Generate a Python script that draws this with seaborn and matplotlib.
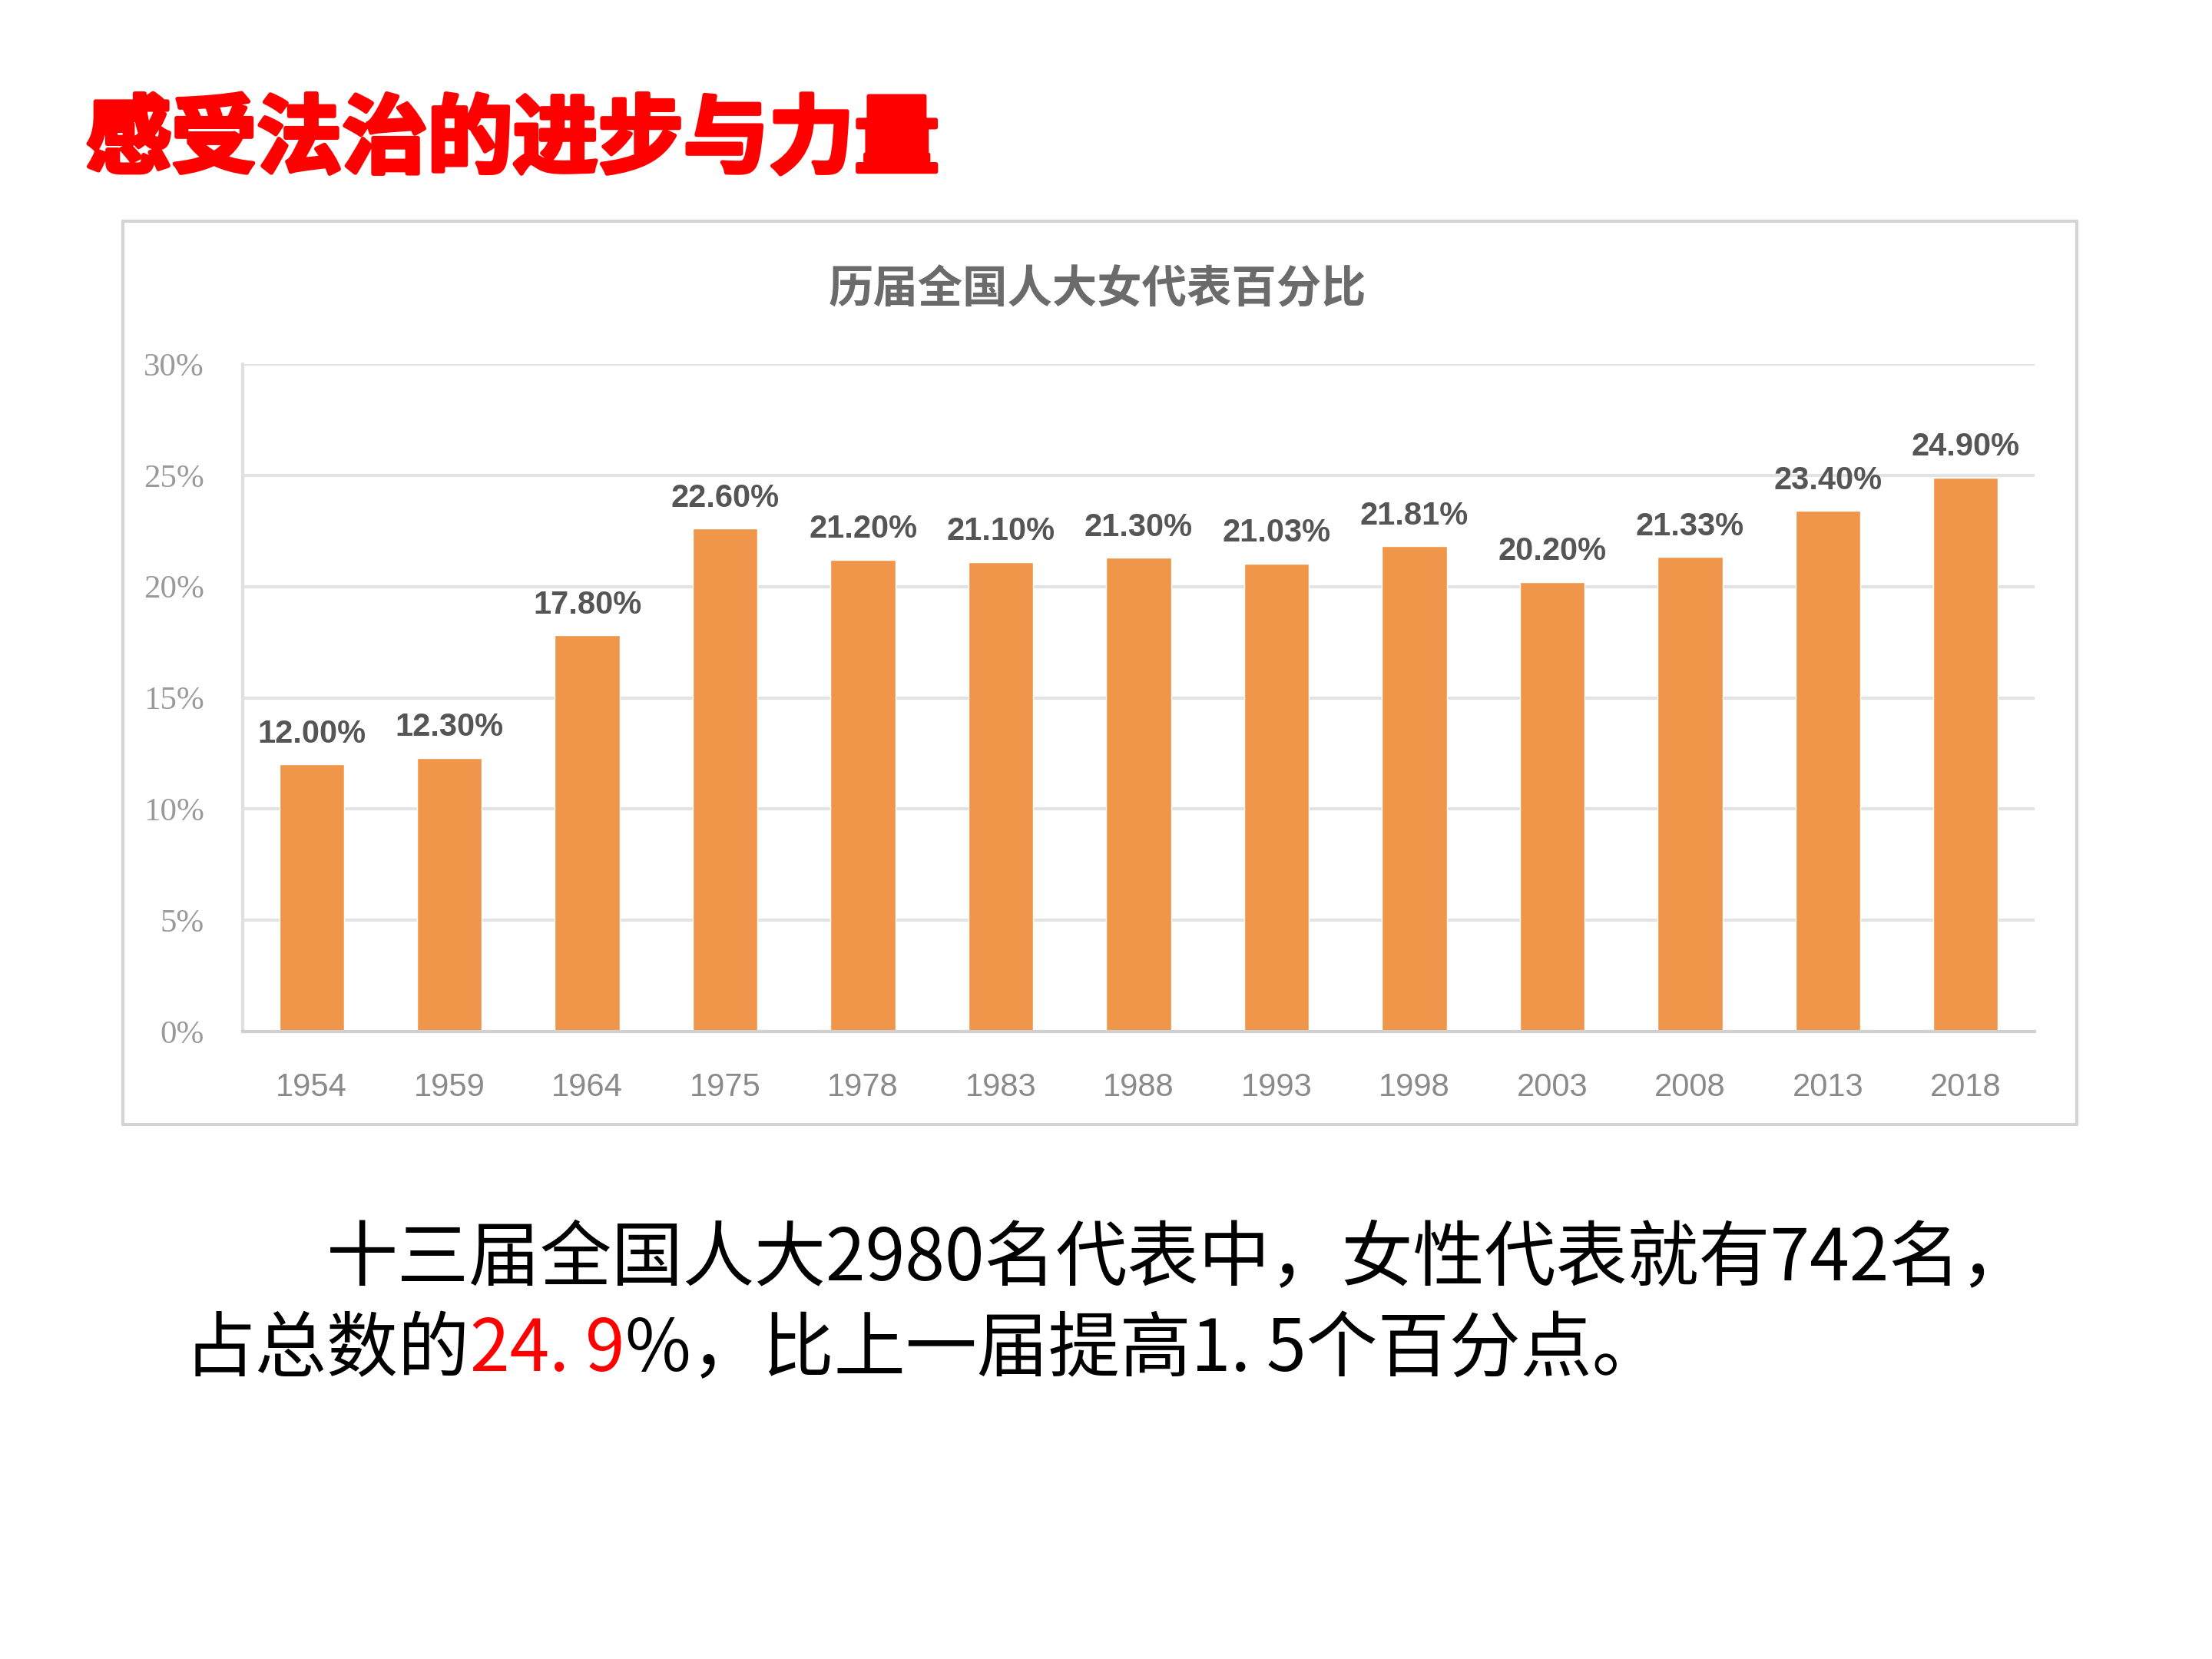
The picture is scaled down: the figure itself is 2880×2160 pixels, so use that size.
import matplotlib
matplotlib.use("Agg")
import matplotlib.pyplot as plt
import matplotlib.patheffects as pe
import seaborn as sns
import pandas as pd
from matplotlib.patches import Rectangle
from matplotlib.ticker import FuncFormatter

years = ["1954", "1959", "1964", "1975", "1978", "1983", "1988", "1993", "1998", "2003", "2008", "2013", "2018"]
values = [12.00, 12.30, 17.80, 22.60, 21.20, 21.10, 21.30, 21.03, 21.81, 20.20, 21.33, 23.40, 24.90]
value_labels = ["12.00%", "12.30%", "17.80%", "22.60%", "21.20%", "21.10%", "21.30%", "21.03%", "21.81%", "20.20%", "21.33%", "23.40%", "24.90%"]
y_ticks = [0, 5, 10, 15, 20, 25, 30]

slide_title = "感受法治的进步与力量"
chart_title = "历届全国人大女代表百分比"
line1 = "十三届全国人大2980名代表中，女性代表就有742名，"
line2_a = "占总数的"
line2_red = "24. 9"
line2_b = "%，比上一届提高1. 5个百分点。"

sns.set_theme(style="white")
plt.rcParams['font.family'] = ['Noto Sans CJK SC', 'DejaVu Sans']

W, H = 2880, 2160
fig = plt.figure(figsize=(28.8, 21.6), dpi=100)
fig.patch.set_facecolor("white")

# chart frame
fig.patches.append(Rectangle((160 / W, 1 - 1464 / H), (2704 - 160) / W, (1464 - 288) / H,
                             transform=fig.transFigure, fill=False, edgecolor="#d4d4d4", linewidth=3))

ax = fig.add_axes([316 / W, 1 - 1343 / H, (2649 - 316) / W, (1343 - 474) / H])
df = pd.DataFrame({"year": years, "value": values})
sns.barplot(data=df, x="year", y="value", color="#F0964A", width=0.47, ax=ax, saturation=1)
ax.set_xlim(-0.5, len(years) - 0.5)
ax.set_ylim(0, 30)
ax.set_yticks(y_ticks)
ax.yaxis.set_major_formatter(FuncFormatter(lambda v, p: f"{int(v)}%"))
ax.grid(axis="y", color="#e3e3e3", linewidth=3)
ax.set_axisbelow(True)
for s in ["top", "right"]:
    ax.spines[s].set_visible(False)
ax.spines["left"].set_color("#e0e0e0")
ax.spines["left"].set_linewidth(3)
ax.spines["bottom"].set_color("#d0d0d0")
ax.spines["bottom"].set_linewidth(3)
ax.set_xlabel("")
ax.set_ylabel("")
ax.tick_params(axis="x", labelsize=30, colors="#8a8a8a", pad=38, length=0)
ax.tick_params(axis="y", labelsize=31, colors="#9a9a9a", pad=36, length=0)
for lab in ax.get_yticklabels():
    lab.set_family(["Liberation Serif", "DejaVu Serif"])
for lab in ax.get_xticklabels():
    lab.set_family(["Liberation Sans Narrow", "Liberation Sans", "DejaVu Sans"])
ax.bar_label(ax.containers[0], labels=value_labels, padding=14, fontsize=30,
             fontweight="bold", color="#555555", family=["Liberation Sans Narrow", "Liberation Sans", "DejaVu Sans"])

fig.text(1429 / W, 1 - 377 / H, chart_title, ha="center", va="center", fontsize=42,
         fontweight="bold", color="#6b6b6b")

# slide title
fig.text(112 / W, 1 - 184 / H, slide_title, ha="left", va="center", fontsize=80,
         fontweight="black", color="#FF0000",
         path_effects=[pe.withStroke(linewidth=4, foreground="#ff0000")])

# bottom text
fs = 67
fig.text(425 / W, 1 - 1640 / H, line1, ha="left", va="center", fontsize=fs, color="black")
t1 = fig.text(240 / W, 1 - 1758 / H, line2_a, ha="left", va="center", fontsize=fs, color="black")
fig.canvas.draw()
r = fig.canvas.get_renderer()
bb = t1.get_window_extent(r)
t2 = fig.text(bb.x1 / W, 1 - 1758 / H, line2_red, ha="left", va="center", fontsize=fs, color="#FF0000")
bb2 = t2.get_window_extent(r)
fig.text(bb2.x1 / W, 1 - 1758 / H, line2_b, ha="left", va="center", fontsize=fs, color="black")

fig.savefig("out.png", dpi=100, facecolor="white")
